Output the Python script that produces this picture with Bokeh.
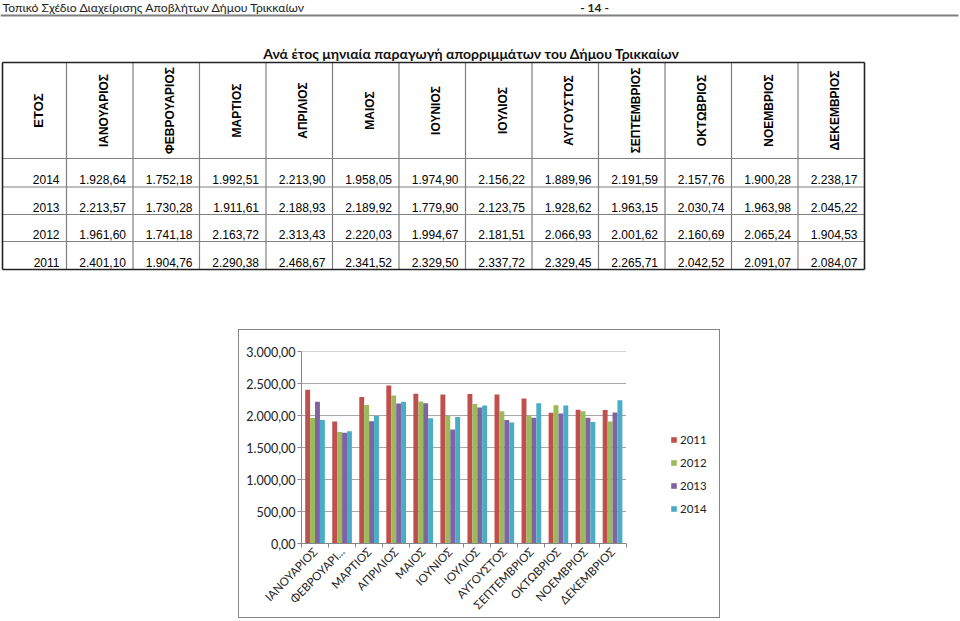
import math
from bokeh.plotting import figure
from bokeh.models import Range1d, FixedTicker, Legend, LegendItem, Spacer
from bokeh.layouts import column, row
from bokeh.core.properties import value
from bokeh.embed import file_html
from bokeh.resources import INLINE

# ---------------- data ----------------
page_header = "Τοπικό Σχέδιο Διαχείρισης Αποβλήτων Δήμου Τρικκαίων"
page_number = "- 14 -"
table_title = "Ανά έτος μηνιαία παραγωγή απορριμμάτων του Δήμου Τρικκαίων"
year_header = "ΕΤΟΣ"
months = ["ΙΑΝΟΥΑΡΙΟΣ", "ΦΕΒΡΟΥΑΡΙΟΣ", "ΜΑΡΤΙΟΣ", "ΑΠΡΙΛΙΟΣ", "ΜΑΙΟΣ", "ΙΟΥΝΙΟΣ",
          "ΙΟΥΛΙΟΣ", "ΑΥΓΟΥΣΤΟΣ", "ΣΕΠΤΕΜΒΡΙΟΣ", "ΟΚΤΩΒΡΙΟΣ", "ΝΟΕΜΒΡΙΟΣ", "ΔΕΚΕΜΒΡΙΟΣ"]
chart_month_labels = ["ΙΑΝΟΥΑΡΙΟΣ", "ΦΕΒΡΟΥΑΡΙ...", "ΜΑΡΤΙΟΣ", "ΑΠΡΙΛΙΟΣ", "ΜΑΙΟΣ", "ΙΟΥΝΙΟΣ",
                      "ΙΟΥΛΙΟΣ", "ΑΥΓΟΥΣΤΟΣ", "ΣΕΠΤΕΜΒΡΙΟΣ", "ΟΚΤΩΒΡΙΟΣ", "ΝΟΕΜΒΡΙΟΣ", "ΔΕΚΕΜΒΡΙΟΣ"]

values_2011 = [2401.10, 1904.76, 2290.38, 2468.67, 2341.52, 2329.50, 2337.72, 2329.45, 2265.71, 2042.52, 2091.07, 2084.07]
values_2012 = [1961.60, 1741.18, 2163.72, 2313.43, 2220.03, 1994.67, 2181.51, 2066.93, 2001.62, 2160.69, 2065.24, 1904.53]
values_2013 = [2213.57, 1730.28, 1911.61, 2188.93, 2189.92, 1779.90, 2123.75, 1928.62, 1963.15, 2030.74, 1963.98, 2045.22]
values_2014 = [1928.64, 1752.18, 1992.51, 2213.90, 1958.05, 1974.90, 2156.22, 1889.96, 2191.59, 2157.76, 1900.28, 2238.17]

series_years = ["2011", "2012", "2013", "2014"]
series_values = [values_2011, values_2012, values_2013, values_2014]
series_colors = ["#C0504D", "#9BBB59", "#8064A2", "#4BACC6"]
table_order = ["2014", "2013", "2012", "2011"]

y_ticks = [0, 500, 1000, 1500, 2000, 2500, 3000]
y_tick_labels = ["0,00", "500,00", "1.000,00", "1.500,00", "2.000,00", "2.500,00", "3.000,00"]


def greek_number(v):
    s = f"{v:,.2f}"
    return s.replace(",", "#").replace(".", ",").replace("#", ".")


# ---------------- top part: page header + table ----------------
TOP_H = 329
top = figure(width=960, height=TOP_H, x_range=Range1d(0, 960), y_range=Range1d(TOP_H, 0),
             output_backend="svg", toolbar_location=None, min_border=0,
             x_axis_location=None, y_axis_location=None, outline_line_color=None)
top.grid.visible = False

top.text(x=[2], y=[7], text=[page_header], text_font=value("Lato"), text_font_size="12.2px",
         text_baseline="middle", text_align="left", text_color="#222222")
top.text(x=[594], y=[7], text=[page_number], text_font=value("Lato"), text_font_size="12px",
         text_font_style="bold", text_baseline="middle", text_align="center", text_color="#222222")
top.segment(x0=[0], y0=[15], x1=[958], y1=[15], line_color="#7f7f7f", line_width=2)

top.text(x=[471], y=[53], text=[table_title], text_font=value("Lato"), text_font_size="14px",
         text_font_style="bold", text_baseline="middle", text_align="center", text_color="#111111")

col_edges = [2, 66] + [66 + 66.5 * i for i in range(1, 13)]
row_edges = [62, 158, 186.5, 214, 241, 269]

# inner grid lines
ix = col_edges[1:-1]
top.segment(x0=ix, y0=[row_edges[0]] * len(ix), x1=ix, y1=[row_edges[-1]] * len(ix),
            line_color="#808080", line_width=1.2)
iy = row_edges[1:-1]
top.segment(x0=[col_edges[0]] * len(iy), y0=iy, x1=[col_edges[-1]] * len(iy), y1=iy,
            line_color="#808080", line_width=1.2)
# outer border
top.segment(x0=[col_edges[0], col_edges[0], col_edges[0], col_edges[-1]],
            y0=[row_edges[0], row_edges[-1], row_edges[0], row_edges[0]],
            x1=[col_edges[-1], col_edges[-1], col_edges[0], col_edges[-1]],
            y1=[row_edges[0], row_edges[-1], row_edges[-1], row_edges[-1]],
            line_color="#222222", line_width=1.6)

# header texts (rotated)
head_mid = (row_edges[0] + row_edges[1]) / 2
top.text(x=[(col_edges[0] + col_edges[1]) / 2 + 4], y=[head_mid], text=[year_header],
         angle=math.pi / 2, text_font=value("Liberation Sans"), text_font_size="13px",
         text_font_style="bold", text_align="center", text_baseline="middle", text_color="#000000")
mx = [(col_edges[i + 1] + col_edges[i + 2]) / 2 + 4 for i in range(12)]
top.text(x=mx, y=[head_mid] * 12, text=months, angle=math.pi / 2,
         text_font=value("Liberation Sans"), text_font_size="12px", text_font_style="bold",
         text_align="center", text_baseline="middle", text_color="#000000")

# data cells
by_year = dict(zip(series_years, series_values))
cx, cy, ct = [], [], []
for r, yr in enumerate(table_order):
    mid = row_edges[r + 2] - 7.5
    cx.append(col_edges[1] - 7); cy.append(mid); ct.append(yr)
    for i, v in enumerate(by_year[yr]):
        cx.append(col_edges[i + 2] - 7); cy.append(mid); ct.append(greek_number(v))
top.text(x=cx, y=cy, text=ct, text_font=value("Liberation Sans"), text_font_size="12px",
         text_align="right", text_baseline="middle", text_color="#000000")

# ---------------- chart ----------------
n_cat = len(chart_month_labels)
CAT_PLOT_W = 323          # pixel width of the category area
FRAME_W = 415             # frame also hosts the legend area on its right
x_end = 0.5 + n_cat * FRAME_W / CAT_PLOT_W

chart = figure(frame_width=FRAME_W, frame_height=190, x_range=Range1d(0.5, x_end),
               y_range=Range1d(0, 3000), output_backend="svg", toolbar_location=None,
               min_border_left=62, min_border_right=3, min_border_top=21, min_border_bottom=76,
               outline_line_color=None, styles={"border": "1px solid #868686"})

# horizontal gridlines (only across the category area)
grid_vals = [t for t in y_ticks if t > 0]
chart.segment(x0=[0.5] * len(grid_vals), x1=[n_cat + 0.5] * len(grid_vals), y0=grid_vals, y1=grid_vals,
              line_color="#a6a6a6", line_width=1)

n = len(series_years)
bw = 1.0 / (n + 1.5)
renderers = []
for k, (yr, vals, col) in enumerate(zip(series_years, series_values, series_colors)):
    off = (k - (n - 1) / 2) * bw
    xs = [i + 1 + off for i in range(len(vals))]
    r = chart.vbar(x=xs, top=vals, width=bw, fill_color=col, line_color=None)
    renderers.append((yr, r))

chart.grid.visible = False

yax = chart.yaxis[0]
yax.ticker = FixedTicker(ticks=y_ticks, minor_ticks=[])
yax.major_label_overrides = dict(zip(y_ticks, y_tick_labels))
yax.major_tick_out = 4
yax.major_tick_in = 0
yax.major_tick_line_color = "#868686"
yax.axis_line_color = "#868686"
yax.major_label_standoff = 2
yax.major_label_text_font = "Lato"
yax.major_label_text_font_size = "12.5px"
yax.major_label_text_color = "#222222"

xax = chart.xaxis[0]
xax.bounds = (0.5, n_cat + 0.5)
xax.ticker = FixedTicker(ticks=list(range(1, n_cat + 1)), minor_ticks=[i + 0.5 for i in range(n_cat + 1)])
xax.major_label_overrides = {i + 1: lab for i, lab in enumerate(chart_month_labels)}
xax.major_tick_line_color = None
xax.major_tick_out = 0
xax.major_tick_in = 0
xax.minor_tick_line_color = "#868686"
xax.minor_tick_out = 4
xax.minor_tick_in = 0
xax.axis_line_color = "#868686"
xax.major_label_orientation = 0.8
xax.major_label_standoff = 2
xax.major_label_text_font = "Lato"
xax.major_label_text_font_size = "11.5px"
xax.major_label_text_color = "#222222"

legend = Legend(items=[LegendItem(label=yr, renderers=[r]) for yr, r in renderers],
                location=(369, 28), orientation="vertical", glyph_width=7, glyph_height=7,
                label_standoff=3, spacing=9, padding=13, margin=0, label_height=14,
                border_line_color=None, background_fill_alpha=0,
                label_text_font="Lato", label_text_font_size="11.5px", label_text_color="#222222")
chart.add_layout(legend)

layout = column(top, row(Spacer(width=238, height=289), chart))

open("out.html", "w").write(file_html(layout, INLINE))
